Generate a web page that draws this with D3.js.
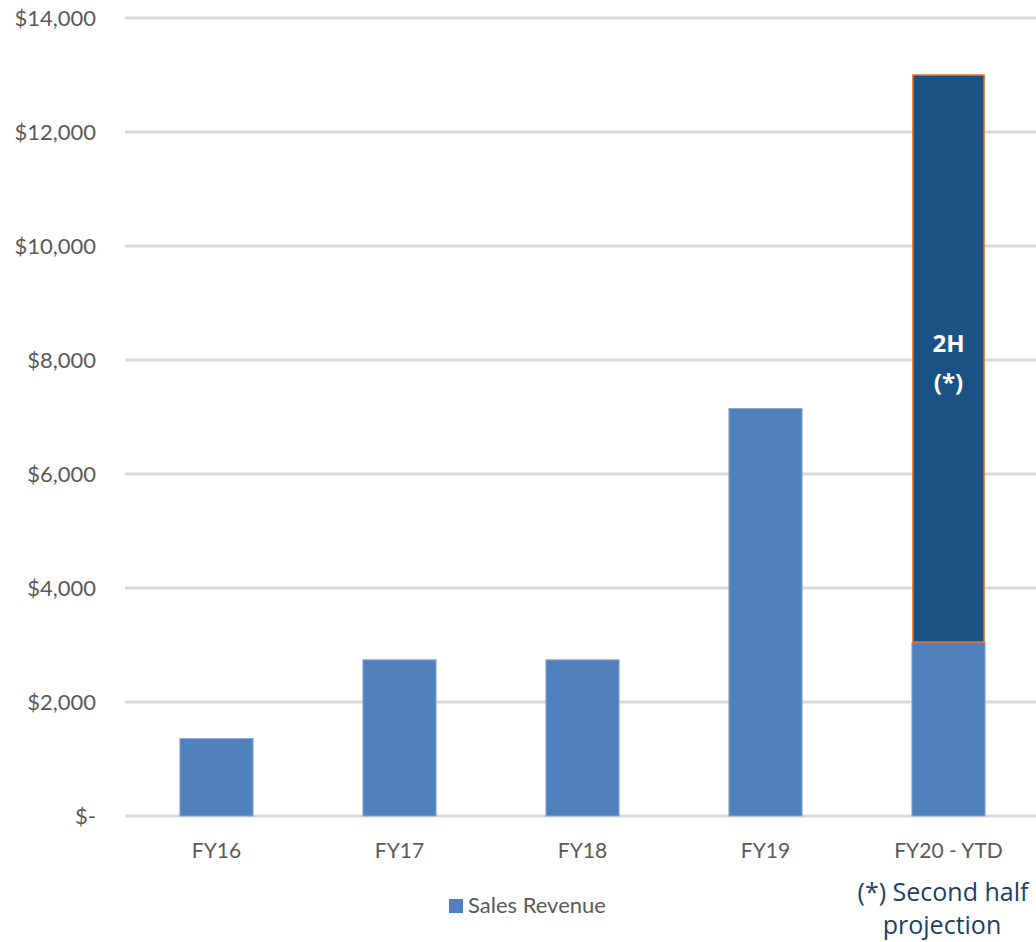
<!DOCTYPE html>
<html lang="en">
<head>
<meta charset="utf-8">
<title>Sales Revenue</title>
<script src="https://d3js.org/d3.v7.min.js"></script>
<style type="text/css">
body { margin: 0; background: #fff; }
</style>
</head>
<body>
<script type="text/javascript">
// chart data
var years = ["FY16", "FY17", "FY18", "FY19", "FY20 - YTD"];
var salesRevenue = [1360, 2740, 2740, 7150, 3050];
var secondHalf = [0, 0, 0, 0, 9950];
var yTicks = [0, 2000, 4000, 6000, 8000, 10000, 12000, 14000];

var svgWidth = 1036, svgHeight = 942;

var svg = d3.select("body").append("svg")
    .attr("width", svgWidth)
    .attr("height", svgHeight)
    .style("font-family", "Lato, 'Open Sans', sans-serif");

var x = d3.scaleBand()
    .domain(years)
    .range([125, 1040])
    .paddingInner(0.6)
    .paddingOuter(0.3);

var y = d3.scaleLinear()
    .domain([0, 14000])
    .range([816, 18]);

// gridlines
svg.append("g").selectAll("line")
    .data(yTicks)
    .enter().append("line")
    .attr("x1", 125)
    .attr("x2", 1036)
    .attr("y1", function(d) { return y(d); })
    .attr("y2", function(d) { return y(d); })
    .attr("stroke", "#d9d9d9")
    .attr("stroke-width", 3);

// y axis labels
var fmt = d3.format(",");
svg.append("g").selectAll("text")
    .data(yTicks)
    .enter().append("text")
    .attr("x", 96)
    .attr("y", function(d) { return y(d); })
    .attr("dy", "0.35em")
    .attr("text-anchor", "end")
    .attr("font-size", 22)
    .attr("fill", "#595959")
    .text(function(d) { return d === 0 ? "$-" : "$" + fmt(d); });

// first part bars
svg.append("g").selectAll("rect")
    .data(salesRevenue)
    .enter().append("rect")
    .attr("x", function(d, i) { return x(years[i]); })
    .attr("width", x.bandwidth())
    .attr("y", function(d) { return y(d); })
    .attr("height", function(d) { return y(0) - y(d); })
    .attr("fill", "#4f81bd")
    .attr("stroke", "#8faad4")
    .attr("stroke-width", 1);

// second half projection (stacked on top)
var stacked = [];
secondHalf.forEach(function(v, i) { if (v > 0) stacked.push({ i: i, v: v }); });

svg.append("g").selectAll("rect")
    .data(stacked)
    .enter().append("rect")
    .attr("x", function(d) { return x(years[d.i]) + 1; })
    .attr("width", x.bandwidth() - 2)
    .attr("y", function(d) { return y(salesRevenue[d.i] + d.v); })
    .attr("height", function(d) { return y(salesRevenue[d.i]) - y(salesRevenue[d.i] + d.v); })
    .attr("fill", "#1a5285")
    .attr("stroke", "#e87532")
    .attr("stroke-width", 1.5);

// label inside 2H bar
var lastI = years.length - 1;
var cx = x(years[lastI]) + x.bandwidth() / 2;
svg.append("text")
    .attr("x", cx)
    .attr("y", 352)
    .attr("text-anchor", "middle")
    .attr("font-family", "'Open Sans', sans-serif")
    .attr("font-weight", "bold")
    .attr("font-size", 24)
    .attr("fill", "#fff")
    .text("2H");
svg.append("text")
    .attr("x", cx)
    .attr("y", 391)
    .attr("text-anchor", "middle")
    .attr("font-family", "'Open Sans', sans-serif")
    .attr("font-weight", "bold")
    .attr("font-size", 24)
    .attr("fill", "#fff")
    .text("(*)");

// x axis labels
svg.append("g").selectAll("text")
    .data(years)
    .enter().append("text")
    .attr("x", function(d) { return x(d) + x.bandwidth() / 2; })
    .attr("y", 858)
    .attr("text-anchor", "middle")
    .attr("font-size", 21)
    .attr("fill", "#595959")
    .text(function(d) { return d; });

// legend
svg.append("rect")
    .attr("x", 449)
    .attr("y", 899)
    .attr("width", 14)
    .attr("height", 14)
    .attr("fill", "#4f81bd");
svg.append("text")
    .attr("x", 468)
    .attr("y", 913)
    .attr("font-size", 22)
    .attr("fill", "#595959")
    .text("Sales Revenue");

// note
svg.append("text")
    .attr("x", 943)
    .attr("y", 901)
    .attr("text-anchor", "middle")
    .attr("font-family", "'Open Sans', sans-serif")
    .attr("font-size", 25)
    .attr("fill", "#1b3f66")
    .text("(*) Second half");
svg.append("text")
    .attr("x", 942)
    .attr("y", 934)
    .attr("text-anchor", "middle")
    .attr("font-family", "'Open Sans', sans-serif")
    .attr("font-size", 25)
    .attr("fill", "#1b3f66")
    .text("projection");
</script>
</body>
</html>
